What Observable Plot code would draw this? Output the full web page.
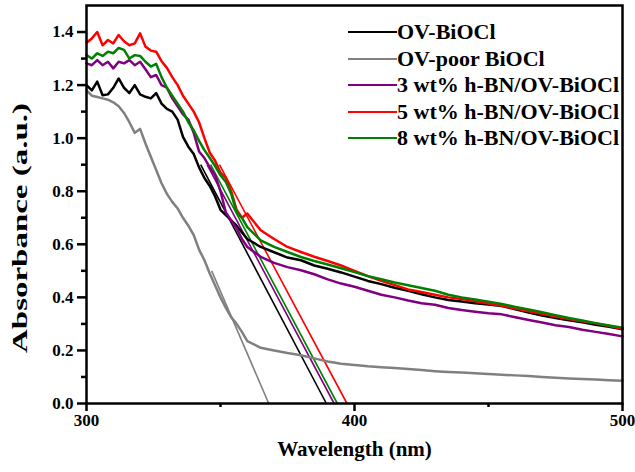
<!DOCTYPE html>
<html><head><meta charset="utf-8">
<script src="https://cdn.jsdelivr.net/npm/d3@7"></script>
<script src="https://cdn.jsdelivr.net/npm/@observablehq/plot@0.6"></script>
<style>
body{margin:0;background:#fff;}
#wrap{position:relative;width:635px;height:472px;font-family:"Liberation Serif","Times New Roman",serif;font-weight:bold;color:#000;}
#legend{position:absolute;left:348px;top:19px;}
.row{display:flex;align-items:center;height:26.5px;}
.sw{width:49px;height:0;border-top:2.5px solid;}
.lab{font-size:22px;line-height:26px;white-space:nowrap;}
</style></head><body><div id="wrap"><div id="legend"></div></div>
<script>
const wavelengths = [300,302,304,306,308,310,312,314,316,318,320,322,324,326,328,330,332,334,336,338,340,342,344,346,348,350,352,354,356,358,360,
  365,370,375,380,385,390,395,400,405,410,415,420,425,430,435,440,445,450,455,460,465,470,475,480,485,490,495,500];
const ovBiOCl = [1.20,1.18,1.213,1.162,1.165,1.19,1.225,1.19,1.17,1.20,1.165,1.156,1.15,1.17,1.13,1.11,1.10,1.07,1.005,0.968,0.94,0.89,0.85,0.82,0.78,0.73,0.71,0.69,0.67,0.645,0.62,
  0.59,0.57,0.55,0.54,0.52,0.508,0.494,0.478,0.462,0.45,0.436,0.425,0.412,0.40,0.39,0.384,0.378,0.373,0.367,0.355,0.343,0.332,0.322,0.314,0.306,0.297,0.289,0.28];
const ovPoorBiOCl = [1.18,1.16,1.155,1.15,1.145,1.135,1.12,1.095,1.06,1.02,1.035,0.98,0.93,0.88,0.83,0.79,0.76,0.735,0.70,0.67,0.635,0.58,0.54,0.49,0.445,0.40,0.36,0.325,0.30,0.27,0.235,
  0.21,0.20,0.19,0.182,0.17,0.158,0.15,0.145,0.14,0.137,0.134,0.13,0.126,0.122,0.119,0.117,0.114,0.111,0.108,0.106,0.104,0.10,0.097,0.094,0.092,0.09,0.088,0.086];
const bn3 = [1.282,1.275,1.294,1.275,1.288,1.263,1.288,1.282,1.294,1.275,1.288,1.26,1.23,1.238,1.20,1.19,1.15,1.12,1.09,1.07,1.02,0.95,0.925,0.89,0.86,0.80,0.72,0.69,0.66,0.62,0.59,
  0.553,0.53,0.514,0.502,0.487,0.468,0.452,0.44,0.425,0.41,0.40,0.388,0.378,0.372,0.36,0.352,0.346,0.34,0.336,0.325,0.315,0.305,0.295,0.288,0.278,0.27,0.262,0.253];
const bn5 = [1.36,1.376,1.40,1.35,1.37,1.357,1.389,1.365,1.35,1.357,1.395,1.345,1.33,1.326,1.29,1.265,1.23,1.20,1.16,1.13,1.10,1.06,1.00,0.945,0.915,0.87,0.85,0.80,0.73,0.70,0.716,
  0.653,0.62,0.59,0.571,0.553,0.537,0.52,0.50,0.48,0.462,0.446,0.43,0.42,0.41,0.40,0.394,0.385,0.377,0.368,0.358,0.348,0.338,0.328,0.318,0.31,0.302,0.292,0.282];
const bn8 = [1.313,1.30,1.32,1.31,1.326,1.32,1.34,1.333,1.30,1.313,1.31,1.288,1.27,1.28,1.23,1.19,1.16,1.13,1.10,1.06,1.03,0.99,0.955,0.925,0.895,0.86,0.835,0.79,0.72,0.70,0.665,
  0.615,0.59,0.571,0.552,0.537,0.524,0.51,0.495,0.48,0.468,0.456,0.446,0.435,0.425,0.41,0.40,0.392,0.384,0.375,0.364,0.354,0.344,0.333,0.322,0.313,0.303,0.294,0.286];
const seriesNames = ["OV-BiOCl","OV-poor BiOCl","3 wt% h-BN/OV-BiOCl","5 wt% h-BN/OV-BiOCl","8 wt% h-BN/OV-BiOCl"];
const seriesColors = ["#000000","#808080","#800080","#ff0000","#008000"];
const seriesValues = [ovBiOCl, ovPoorBiOCl, bn3, bn5, bn8];
// tangent (band-edge) lines: upper point and x-intercept
const tangentTopWl = [342.6, 346.7, 345.0, 349.6, 346.3];
const tangentTopAbs = [0.90, 0.50, 0.90, 0.90, 0.90];
const edgeWl = [389.5, 368.0, 392.4, 397.2, 393.6];
const xTicks = [300, 400, 500];
const xMinorTicks = [350, 450];
const yTicks = [0, 0.2, 0.4, 0.6, 0.8, 1.0, 1.2, 1.4];
const yMinorTicks = [0.1, 0.3, 0.5, 0.7, 0.9, 1.1, 1.3];
const xLabel = "Wavelength (nm)";
const yLabel = "Absorbance (a.u.)";

const rows = [];
seriesNames.forEach((name, i) => seriesValues[i].forEach((v, j) => rows.push({series: name, wl: wavelengths[j], abs: v})));
const tangents = seriesNames.map((name, i) => ({series: name, wl0: tangentTopWl[i], a0: tangentTopAbs[i], wl1: edgeWl[i], a1: 0}));

const font = "'Liberation Serif','Times New Roman',serif";
const chart = Plot.plot({
  width: 635, height: 472,
  marginLeft: 86, marginRight: 13, marginTop: 5, marginBottom: 69,
  style: {fontFamily: font, fontSize: "17px", fontWeight: "bold", background: "transparent", color: "#000", overflow: "visible"},
  x: {domain: [300, 500]},
  y: {domain: [0, 1.5]},
  color: {domain: seriesNames, range: seriesColors},
  marks: [
    Plot.link(tangents, {x1: "wl0", y1: "a0", x2: "wl1", y2: "a1", stroke: "series", strokeWidth: 1.6}),
    Plot.line(rows, {x: "wl", y: "abs", z: "series", stroke: "series", strokeWidth: 2.5, strokeLinejoin: "round"}),
    Plot.axisX({ticks: xTicks, tickSize: 8, tickPadding: 2, strokeWidth: 2.5, fontSize: 17, fontWeight: "bold", tickFormat: d => String(d), label: null}),
    Plot.axisX({ticks: xMinorTicks, tickSize: 4, strokeWidth: 2.5, tickFormat: () => "", label: null}),
    Plot.axisY({ticks: yTicks, tickSize: 9, tickPadding: 4, strokeWidth: 2.5, fontSize: 17, fontWeight: "bold", tickFormat: d3.format(".1f"), label: null}),
    Plot.axisY({ticks: yMinorTicks, tickSize: 5, strokeWidth: 2.5, tickFormat: () => "", label: null}),
    Plot.frame({strokeWidth: 2.5}),
    Plot.text([xLabel], {text: d => d, frameAnchor: "bottom", dy: 52, fontSize: 21, fontWeight: "bold"}),
    Plot.text([yLabel], {text: d => d, frameAnchor: "left", rotate: -90, fontSize: 21, fontWeight: "bold"})
  ]
});
const yl = d3.select(chart).selectAll("text").filter(function(){ return this.textContent === yLabel; });
yl.each(function(){ d3.select(this.parentNode).attr("transform", null); });
yl.attr("transform", "translate(20,228) rotate(-90)")
  .attr("x", -125).attr("y", 0).attr("dx", null).attr("dy", "0.35em")
  .attr("text-anchor", "start")
  .attr("textLength", 250).attr("lengthAdjust", "spacingAndGlyphs");
document.getElementById("wrap").prepend(chart);

const legend = d3.select("#legend");
seriesNames.forEach((name, i) => {
  const r = legend.append("div").attr("class", "row");
  r.append("div").attr("class", "sw").style("border-top-color", seriesColors[i]);
  r.append("div").attr("class", "lab").text(name);
});
</script>
</body></html>
